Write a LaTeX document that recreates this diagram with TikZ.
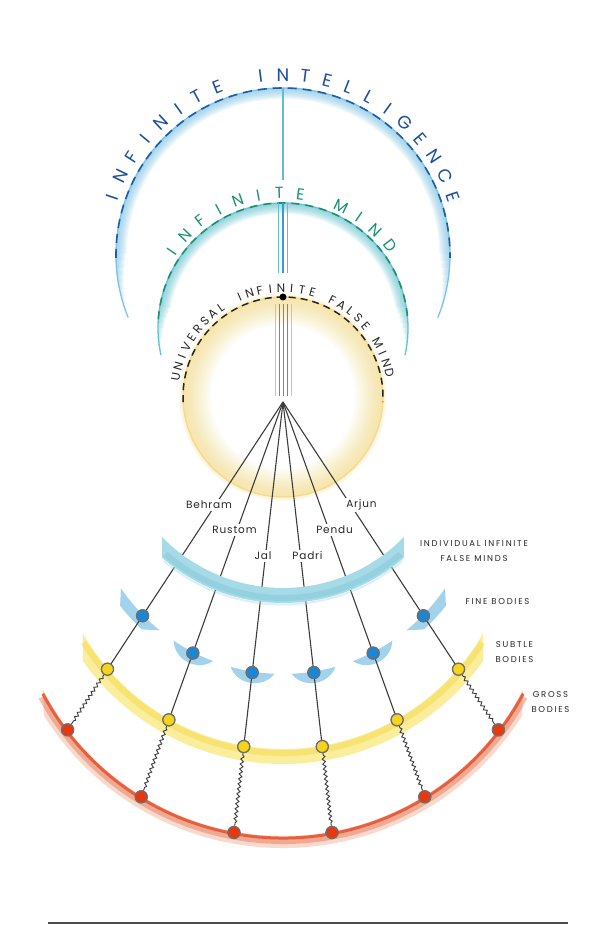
\documentclass[tikz,border=0pt]{standalone}
\usepackage{fontspec}
\setmainfont{Poppins}
\newfontfamily\arcfont{Poppins}
\newfontfamily\labfont[LetterSpace=20]{Poppins}
\newfontfamily\namefont[LetterSpace=8]{Poppins}
\usetikzlibrary{decorations.pathmorphing,calc}
\definecolor{icdash}{HTML}{1F5CA8}
\definecolor{ictext}{HTML}{1D4F9C}
\definecolor{icglow}{HTML}{7CC4E6}
\definecolor{imdash}{HTML}{1E9070}
\definecolor{imtext}{HTML}{1E8F72}
\definecolor{imglow}{HTML}{63C3CF}
\definecolor{ufglow}{HTML}{F7D66A}
\definecolor{ufring}{HTML}{F3C850}
\definecolor{iifmc}{HTML}{A6DAE6}
\definecolor{iifmd}{HTML}{6CBDD5}
\definecolor{finec}{HTML}{8CC9E8}
\definecolor{subc}{HTML}{F9E77A}
\definecolor{subd}{HTML}{F4D634}
\definecolor{grc}{HTML}{F2A080}
\definecolor{grd}{HTML}{E4502A}
\definecolor{blnode}{HTML}{1A86D6}
\definecolor{ylnode}{HTML}{F7D41C}
\definecolor{rdnode}{HTML}{E8380E}
\definecolor{ringc}{HTML}{6E6E6E}
\definecolor{linec}{HTML}{3C3C3C}
\definecolor{vblue}{HTML}{3A9BD0}
\definecolor{vteal}{HTML}{62BCD8}
\definecolor{vyell}{HTML}{F2C24A}
\tikzset{
  dotnode/.style={circle, inner sep=0pt, minimum size=12pt, draw=ringc, line width=1.2pt, fill=#1},
  fan/.style={draw=linec, line width=1.1pt},
  wavy/.style={draw=linec, line width=0.9pt, decorate, decoration={snake, amplitude=1.5pt, segment length=5pt, pre length=2pt, post length=2pt}},
  namelab/.style={fill=white, inner sep=2pt, text=black!85, font=\namefont\fontsize{10.5}{12}\selectfont},
  sidelab/.style={inner sep=0pt, text=black!85, align=center, font=\labfont\fontsize{8.5}{15}\selectfont},
  bigletter/.style={inner sep=0pt, text=ictext, font=\arcfont\fontsize{18}{18}\selectfont},
  midletter/.style={inner sep=0pt, text=imtext, font=\arcfont\fontsize{16}{16}\selectfont},
  smallletter/.style={inner sep=0pt, text=black!85, font=\arcfont\fontsize{12}{12}\selectfont},
}
\begin{document}
\begin{tikzpicture}[x=1pt,y=1pt]
\useasboundingbox (0,0) rectangle (600,941);
\fill[white] (0,0) rectangle (600,941);

% ---------- fine body pieces ----------
\begin{scope}[shift={(283,463)}]
  \foreach \a in {242.6,261.0,279.0,297.4}{
    \pgfmathsetmacro\as{\a-6.5}\pgfmathsetmacro\ae{\a+6.5}
    \pgfmathsetmacro\ca{\a+3.5}\pgfmathsetmacro\cb{\a-3.5}
    \fill[finec, opacity=.8] (\as:196) arc[start angle=\as,end angle=\ae,radius=196]
      .. controls (\ca:212) and (\cb:212) .. (\as:196) -- cycle;
  }
  \fill[finec, opacity=.8] (214.2:196) arc[start angle=214.2,end angle=231,radius=196]
     -- (227:207) arc[start angle=227,end angle=218.1,radius=207] -- cycle;
  \fill[finec, opacity=.8] (325.8:196) arc[start angle=325.8,end angle=309,radius=196]
     -- (313:207) arc[start angle=313,end angle=321.9,radius=207] -- cycle;
\end{scope}

% ---------- subtle band ----------
\begin{scope}[shift={(283,423)}]
  \fill[subc, opacity=.75] (210:231) arc[start angle=210,end angle=330,radius=231]
     -- (324.4:246) arc[start angle=324.4,end angle=215.6,radius=246] -- cycle;
  \draw[subd, opacity=.4, line width=6pt] (212:235) arc[start angle=212,end angle=328,radius=235];
\end{scope}

% ---------- gross band ----------
\begin{scope}[shift={(283,375)}]
  \fill[grc, opacity=.4] (207.3:270) arc[start angle=207.3,end angle=332.7,radius=270]
     -- (328:282) arc[start angle=328,end angle=212,radius=282] -- cycle;
  \draw[grd, opacity=.35, line width=6pt] (208.5:275) arc[start angle=208.5,end angle=331.5,radius=275];
  \draw[grd, opacity=.85, line width=3pt] (208:272) arc[start angle=208,end angle=332,radius=272];
\end{scope}

% ---------- Infinite Intelligence arc ----------
\begin{scope}[shift={(283,686)}]
  \foreach \k in {1,...,9}{
    \pgfmathsetmacro\rr{167-\k*0.6}
    \pgfmathsetmacro\aa{202-2.5*\k}
    \pgfmathsetmacro\bb{-22+2.5*\k}
    \pgfmathsetmacro\ww{1.2*\k}
    \draw[icglow, line width=\ww pt, opacity=0.11] (\aa:\rr) arc[start angle=\aa,end angle=\bb,radius=\rr];
  }
  \draw[icglow, line width=1.3pt] (202:167) arc[start angle=202,end angle=-22,radius=167];
  \draw[icdash, line width=1.6pt, dash pattern=on 9pt off 6pt] (181:167) arc[start angle=181,end angle=-1,radius=167];
  \foreach \ch [count=\i from 0] in {I,N,F,I,N,I,T,E}{
    \pgfmathsetmacro\ang{161.2-7.115*\i}
    \node[bigletter, rotate=\ang-90] (ica\i) at (\ang:180) {\ch};
  }
  \foreach \ch [count=\i from 9] in {I,N,T,E,L,L,I,G,E,N,C,E}{
    \pgfmathsetmacro\ang{161.2-7.115*\i}
    \node[bigletter, rotate=\ang-90] (icb\i) at (\ang:180) {\ch};
  }
\end{scope}

% ---------- Infinite Mind arc ----------
\begin{scope}[shift={(283,613)}]
  \foreach \k in {1,...,9}{
    \pgfmathsetmacro\rr{125-\k*0.6}
    \pgfmathsetmacro\aa{192.5-2.5*\k}
    \pgfmathsetmacro\bb{-12.5+2.5*\k}
    \pgfmathsetmacro\ww{1.2*\k}
    \draw[imglow, line width=\ww pt, opacity=0.11] (\aa:\rr) arc[start angle=\aa,end angle=\bb,radius=\rr];
  }
  \draw[imglow, line width=1.3pt] (192.5:125) arc[start angle=192.5,end angle=-12.5,radius=125];
  \draw[imdash, line width=1.6pt, dash pattern=on 8pt off 6pt] (176:125) arc[start angle=176,end angle=4,radius=125];
  \foreach \ch [count=\i from 0] in {I,N,F,I,N,I,T,E}{
    \pgfmathsetmacro\ang{145.6-9*\i}
    \node[midletter, rotate=\ang-90] (ima\i) at (\ang:135) {\ch};
  }
  \foreach \ch [count=\i from 9] in {M,I,N,D}{
    \pgfmathsetmacro\ang{145.6-9*\i}
    \node[midletter, rotate=\ang-90] (imb\i) at (\ang:135) {\ch};
  }
\end{scope}

% ---------- Universal Infinite False Mind circle ----------
\begin{scope}[shift={(283,544)}]
  \foreach \k in {1,...,14}{
    \pgfmathsetmacro\rr{100-\k}
    \pgfmathsetmacro\ww{2*\k}
    \draw[ufglow, line width=\ww pt, opacity=0.05] (0,0) circle[radius=\rr];
  }
  \foreach \k in {1,...,4}{
    \pgfmathsetmacro\rr{100+\k*0.5}
    \pgfmathsetmacro\ww{\k}
    \draw[ufglow, line width=\ww pt, opacity=0.08] (0,0) circle[radius=\rr];
  }
  \draw[ufring, line width=1.2pt, opacity=.4] (0,0) circle[radius=100];
  \draw[black!85, line width=1.5pt, dash pattern=on 7pt off 5pt] (183:100) arc[start angle=183,end angle=-3,radius=100];
  \foreach \ch [count=\i from 0] in {U,N,I,V,E,R,S,A,L}{
    \pgfmathsetmacro\ang{169.5-5.6*\i}
    \node[smallletter, rotate=\ang-90] (ufa\i) at (\ang:109) {\ch};
  }
  \foreach \ch [count=\i from 10] in {I,N,F,I,N,I,T,E}{
    \pgfmathsetmacro\ang{169.5-5.6*\i}
    \node[smallletter, rotate=\ang-90] (ufb\i) at (\ang:109) {\ch};
  }
  \foreach \ch [count=\i from 19] in {F,A,L,S,E}{
    \pgfmathsetmacro\ang{169.5-5.6*\i}
    \node[smallletter, rotate=\ang-90] (ufc\i) at (\ang:109) {\ch};
  }
  \foreach \ch [count=\i from 25] in {M,I,N,D}{
    \pgfmathsetmacro\ang{169.5-5.6*\i}
    \node[smallletter, rotate=\ang-90] (ufd\i) at (\ang:109) {\ch};
  }
\end{scope}

% ---------- vertical lines ----------
\coordinate (v0a) at (283,853); \coordinate (v0b) at (283,761);
\draw[vteal, line width=1.3pt] (v0a) -- (v0b);
\foreach \x/\c in {278.7/vteal,283/vblue,287.3/vteal}{
  \draw[\c, line width=1.5pt] (\x,738) -- (\x,668);
}
\foreach \x/\c in {275.5/vyell,279.5/vblue,283.5/vblue,287.5/vblue,291.5/vyell}{
  \draw[\c, line width=1.6pt] (\x,637) -- (\x,545);
}
\node[circle, fill=black, inner sep=0pt, minimum size=7pt] (topdot) at (283,644) {};

% ---------- apex & nodes ----------
\coordinate (apex) at (283,539);
\foreach \i/\ang/\tf/\ts/\tg in {1/236.7/255.8/319.7/392.3, 2/250.25/266.8/337.7/419.5, 3/263.5/272.3/346.8/433.3,
                                 4/276.5/272.3/346.8/433.3, 5/289.75/266.8/337.7/419.5, 6/303.3/255.8/319.7/392.3}{
  \coordinate (fc\i) at ([shift={(\ang:\tf)}]apex);
  \coordinate (sc\i) at ([shift={(\ang:\ts)}]apex);
  \coordinate (gc\i) at ([shift={(\ang:\tg)}]apex);
}
\foreach \i in {1,...,6}{
  \node[dotnode=blnode] (f\i) at (fc\i) {};
  \node[dotnode=ylnode] (s\i) at (sc\i) {};
  \node[dotnode=rdnode] (g\i) at (gc\i) {};
}
\foreach \i in {1,...,6}{
  \draw[fan] (apex) -- (f\i) -- (s\i);
  \draw[wavy] (s\i) -- (g\i);
}

% ---------- individual infinite false minds band (covers the lines) ----------
\begin{scope}[shift={(283,522)}]
  \fill[iifmc] (224.3:169) arc[start angle=224.3,end angle=315.7,radius=169]
     -- (311.1:184) arc[start angle=311.1,end angle=228.9,radius=184] -- cycle;
  \draw[iifmd, opacity=.3, line width=6pt] (229:179) arc[start angle=229,end angle=311,radius=179];
  \draw[iifmc, opacity=.4, line width=2pt] (230:185.5) arc[start angle=230,end angle=310,radius=185.5];
\end{scope}

% redraw nodes on top
\foreach \i in {1,...,6}{
  \node[dotnode=blnode] at (fc\i) {};
  \node[dotnode=ylnode] at (sc\i) {};
  \node[dotnode=rdnode] at (gc\i) {};
}

% ---------- names ----------
\node[namelab] (nBehram) at (209,436) {Behram};
\node[namelab] (nRustom) at (234.5,411) {Rustom};
\node[namelab] (nJal) at (263,385) {Jal};
\node[namelab] (nPadri) at (307.5,385) {Padri};
\node[namelab] (nPendu) at (334.5,411) {Pendu};
\node[namelab] (nArjun) at (361.5,436) {Arjun};

% ---------- side labels ----------
\node[sidelab] (lIIFM) at (474,389.5) {INDIVIDUAL INFINITE\\FALSE MINDS};
\node[sidelab] (lFine) at (497.5,339) {FINE BODIES};
\node[sidelab] (lSubtle) at (514.5,289) {SUBTLE\\BODIES};
\node[sidelab] (lGross) at (550.5,238.5) {GROSS\\BODIES};

% ---------- bottom rule ----------
\coordinate (ruleL) at (48,18); \coordinate (ruleR) at (568,18);
\draw[black!70, line width=1.5pt] (ruleL) -- (ruleR);
\end{tikzpicture}
\end{document}
